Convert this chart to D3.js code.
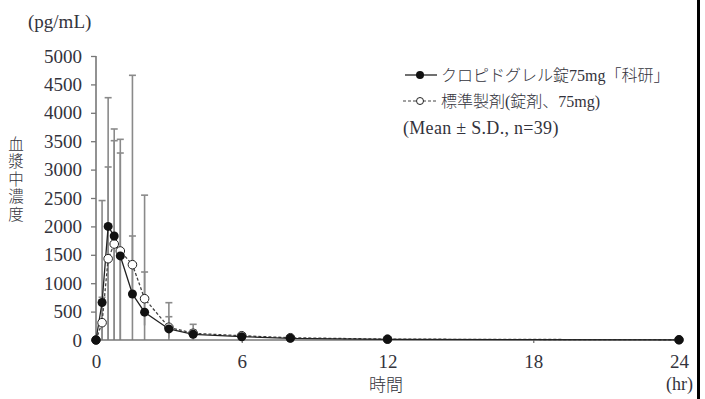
<!DOCTYPE html>
<html><head><meta charset="utf-8">
<script src="https://cdn.jsdelivr.net/npm/d3@7"></script>
<style>
html,body{margin:0;padding:0;background:#fff;}
svg{display:block;}
</style></head>
<body>
<script>
const times = [0, 0.25, 0.5, 0.75, 1, 1.5, 2, 3, 4, 6, 8, 12, 24];
const testMean = [0, 660, 2000, 1830, 1480, 810, 490, 195, 100, 58, 30, 12, 3];
const testSD   = [0, 1795, 2266, 1885, 2053, 3850, 2060, 462, 76, 30, 15, 8, 3];
const refMean  = [0, 305, 1431, 1690, 1567, 1326, 727, 224, 118, 75, 40, 15, 4];
const refSD    = [0, 447, 1615, 1819, 1725, 505, 470, 186, 158, 40, 20, 10, 3];
const yTicks = [0, 500, 1000, 1500, 2000, 2500, 3000, 3500, 4000, 4500, 5000];
const xTicks = [0, 6, 12, 18, 24];
const legendLabels = ["クロピドグレル錠75mg「科研」", "標準製剤(錠剤、75mg)", "(Mean ± S.D., n=39)"];
const yLabel = "血漿中濃度";

const SERIF = "'Liberation Serif','DejaVu Serif','Noto Sans CJK JP',serif";
const CJK = "'Noto Sans CJK JP','Liberation Serif',sans-serif";
const TXT = "#33333c";

const W = 705, H = 399;
const svg = d3.select("body").append("svg").attr("width", W).attr("height", H);
const x = d3.scaleLinear().domain([0, 24]).range([96, 679]);
const y = d3.scaleLinear().domain([0, 5000]).range([340, 56]);

svg.append("rect").attr("x", 697).attr("y", 0).attr("width", 3).attr("height", H).attr("fill", "#000");

function errBars(mean, sd) {
  const g = svg.append("g").attr("stroke", "#8a8a8a").attr("stroke-width", 1.6);
  times.forEach((t, i) => {
    if (sd[i] <= 0) return;
    const lo = Math.max(0, mean[i] - sd[i]), hi = mean[i] + sd[i];
    g.append("line").attr("x1", x(t)).attr("x2", x(t)).attr("y1", y(lo)).attr("y2", y(hi));
    g.append("line").attr("x1", x(t) - 3.5).attr("x2", x(t) + 3.5).attr("y1", y(hi)).attr("y2", y(hi));
  });
}
errBars(testMean, testSD);
errBars(refMean, refSD);

const yAxis = svg.append("g").attr("transform", "translate(96,0)")
  .call(d3.axisLeft(y).tickValues(yTicks).tickSize(5).tickPadding(9).tickFormat(d3.format("d")));
const xAxis = svg.append("g").attr("transform", "translate(0,340)")
  .call(d3.axisBottom(x).tickValues(xTicks).tickSize(3).tickPadding(12).tickFormat(d3.format("d")));
[yAxis, xAxis].forEach(a => {
  a.select(".domain").attr("stroke", "#777").attr("stroke-width", 1.6);
  a.selectAll(".tick line").attr("stroke", "#777").attr("stroke-width", 1.3);
  a.selectAll(".tick text").style("font-size", "19px").style("fill", TXT).style("font-family", SERIF);
});
xAxis.select(".domain").attr("d", `M${x(0)},0H${x(24)}`);
yAxis.select(".domain").attr("d", `M0,${y(0)}V${y(5000)}`);

const line = (m) => d3.line().x((d, i) => x(times[i])).y((d) => y(d))(m);
svg.append("path").attr("d", line(refMean)).attr("fill", "none").attr("stroke", "#444")
  .attr("stroke-width", 1.3).attr("stroke-dasharray", "3,2");
svg.append("path").attr("d", line(testMean)).attr("fill", "none").attr("stroke", "#222")
  .attr("stroke-width", 1.3);

svg.append("g").selectAll("circle").data(refMean).join("circle")
  .attr("cx", (d, i) => x(times[i])).attr("cy", d => y(d)).attr("r", 4.3)
  .attr("fill", "#fff").attr("stroke", "#222").attr("stroke-width", 1);
svg.append("g").selectAll("circle").data(testMean).join("circle")
  .attr("cx", (d, i) => x(times[i])).attr("cy", d => y(d)).attr("r", 4.5)
  .attr("fill", "#111");

function txt(xp, yp, s, size, fam, anchor) {
  return svg.append("text").attr("x", xp).attr("y", yp).attr("text-anchor", anchor || "start")
    .style("font-size", size + "px").style("font-family", fam).style("fill", TXT).text(s);
}
txt(28, 28, "(pg/mL)", 19, SERIF);
txt(16, 180, yLabel, 15.5, CJK, "middle").style("font-weight", 300)
  .style("writing-mode", "vertical-rl").style("letter-spacing", "2px");
txt(386, 391, "時間", 17, CJK, "middle").style("font-weight", 300);
txt(693, 390, "(hr)", 18, SERIF, "end");

const lg = svg.append("g");
lg.append("line").attr("x1", 405).attr("x2", 437).attr("y1", 75).attr("y2", 75).attr("stroke", "#222").attr("stroke-width", 1.3);
lg.append("circle").attr("cx", 420).attr("cy", 75).attr("r", 4).attr("fill", "#111");
lg.append("line").attr("x1", 403).attr("x2", 437).attr("y1", 101).attr("y2", 101).attr("stroke", "#444").attr("stroke-width", 1.2).attr("stroke-dasharray", "3,2");
lg.append("circle").attr("cx", 420).attr("cy", 101).attr("r", 3.5).attr("fill", "#fff").attr("stroke", "#222");
txt(441, 81, legendLabels[0], 16, SERIF).style("font-weight", 300);
txt(441, 107, legendLabels[1], 16, SERIF).style("font-weight", 300);
txt(403, 134, legendLabels[2], 18, SERIF).style("letter-spacing", "0.3px");
</script>
</body></html>
